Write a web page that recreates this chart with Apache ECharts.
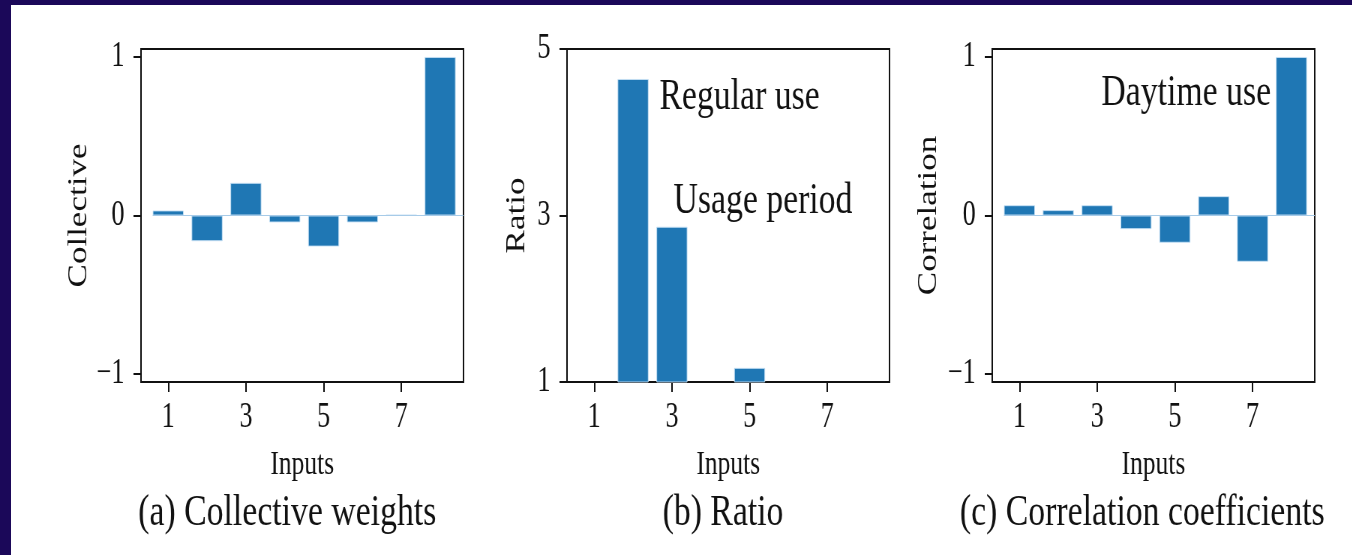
<!DOCTYPE html>
<html>
<head>
<meta charset="utf-8">
<script src="https://cdn.jsdelivr.net/npm/echarts@6.0.0/dist/echarts.min.js"></script>
<style>
  html, body { margin:0; padding:0; width:1352px; height:555px; overflow:hidden; background:#1b0859; }
  #paper { position:absolute; left:11px; top:5px; right:0; bottom:0; background:#ffffff; }
  #chart { position:absolute; left:0; top:0; width:1803px; height:555px; transform:scaleX(0.75); transform-origin:0 0; }
</style>
</head>
<body>
<div id="paper"></div>
<div id="chart"></div>
<script>
// ---- data ----
const inputs = [1, 2, 3, 4, 5, 6, 7, 8];
const xTickValues = [1, 3, 5, 7];
const collectiveWeights = [0.032, -0.162, 0.206, -0.044, -0.196, -0.044, 0.004, 1.0];
const ratioValues = [1.0, 4.64, 2.865, 1.0, 1.17, 1.0, 1.0, 1.0];
const correlationValues = [0.065, 0.034, 0.065, -0.086, -0.172, 0.122, -0.292, 1.0];
const yTicksA = [-1, 0, 1];
const yTicksB = [1, 3, 5];
const yTicksC = [-1, 0, 1];
const yNames = ['Collective', 'Ratio', 'Correlation'];
const xName = 'Inputs';
const subCaptions = ['(a) Collective weights', '(b) Ratio', '(c) Correlation coefficients'];
const annotationsB = [
  { text: 'Regular use', x: 2.68, y: 4.42 },
  { text: 'Usage period', x: 3.04, y: 3.17 }
];
const annotationsC = [
  { text: 'Daytime use', x: 3.11, y: 0.77 }
];

// ---- layout / style ----
const FONT = 'Liberation Serif';
const INK = '#111111';
const BAR = '#1f77b4';
const panelLefts = [188, 756, 1323];
const panelWidth = 430;
const gridTop = 49, gridHeight = 333;
const yRanges = [[-1.05, 1.05], [1, 5], [-1.05, 1.05]];
const yTickSets = [yTicksA, yTicksB, yTicksC];
const yNameGaps = [65, 49, 67];
const seriesValues = [collectiveWeights, ratioValues, correlationValues];
const annos = [[], annotationsB, annotationsC];
const captionX = [383, 964, 1523];

const fmt = v => String(v).replace('-', '\u2212');

const grid = [], xAxis = [], yAxis = [], series = [], graphic = [];
for (let i = 0; i < 3; i++) {
  grid.push({ left: panelLefts[i], top: gridTop, width: panelWidth, height: gridHeight,
    show: true, borderColor: INK, borderWidth: 2, backgroundColor: 'transparent' });
  xAxis.push({
    gridIndex: i, type: 'value', min: 0.3, max: 8.6,
    name: xName, nameLocation: 'middle', nameGap: 66,
    nameTextStyle: { fontFamily: FONT, fontSize: 34, color: INK },
    axisLine: { show: false, onZero: false },
    splitLine: { show: false },
    axisTick: { show: true, inside: false, length: 10, customValues: xTickValues,
      lineStyle: { color: INK, width: 2 } },
    axisLabel: { show: true, margin: 18, customValues: xTickValues, formatter: fmt,
      fontFamily: FONT, fontSize: 35, color: INK }
  });
  yAxis.push({
    gridIndex: i, type: 'value', min: yRanges[i][0], max: yRanges[i][1],
    name: yNames[i], nameLocation: 'middle', nameGap: yNameGaps[i], nameRotate: 90,
    nameTextStyle: { fontFamily: FONT, fontSize: 35, color: INK },
    axisLine: { show: false },
    splitLine: { show: false },
    axisTick: { show: true, inside: false, length: 10, customValues: yTickSets[i],
      lineStyle: { color: INK, width: 2 } },
    axisLabel: { show: true, margin: 22, customValues: yTickSets[i], formatter: fmt,
      fontFamily: FONT, fontSize: 35, color: INK }
  });
  const s = {
    type: 'bar', xAxisIndex: i, yAxisIndex: i,
    data: inputs.map((x, k) => [x, seriesValues[i][k]]),
    barWidth: '80%',
    itemStyle: { color: BAR, borderColor: 'rgba(200,225,245,0.9)', borderWidth: 1 },
    silent: true,
    markPoint: {
      symbolSize: 0, silent: true, animation: false,
      data: annos[i].map(a => ({
        coord: [a.x, a.y],
        label: { show: true, formatter: a.text, position: 'inside', align: 'left', verticalAlign: 'middle',
          fontFamily: FONT, fontSize: 45, color: INK }
      }))
    }
  };
  if (yRanges[i][0] < 0) {
    s.markLine = {
      silent: true, symbol: 'none', animation: false,
      label: { show: false },
      lineStyle: { color: '#a7cbe8', width: 1.2, type: 'solid' },
      data: [[{ coord: [0.6, 0] }, { coord: [8.6, 0] }]]
    };
  }
  series.push(s);
  graphic.push({
    type: 'text', x: captionX[i], y: 513, silent: true,
    style: { text: subCaptions[i], fontFamily: FONT, fontSize: 45, fill: INK,
      align: 'center', verticalAlign: 'middle' }
  });
}

const chart = echarts.init(document.getElementById('chart'), null, { renderer: 'canvas' });
chart.setOption({
  animation: false,
  backgroundColor: 'transparent',
  grid, xAxis, yAxis, series, graphic
});
</script>
</body>
</html>
